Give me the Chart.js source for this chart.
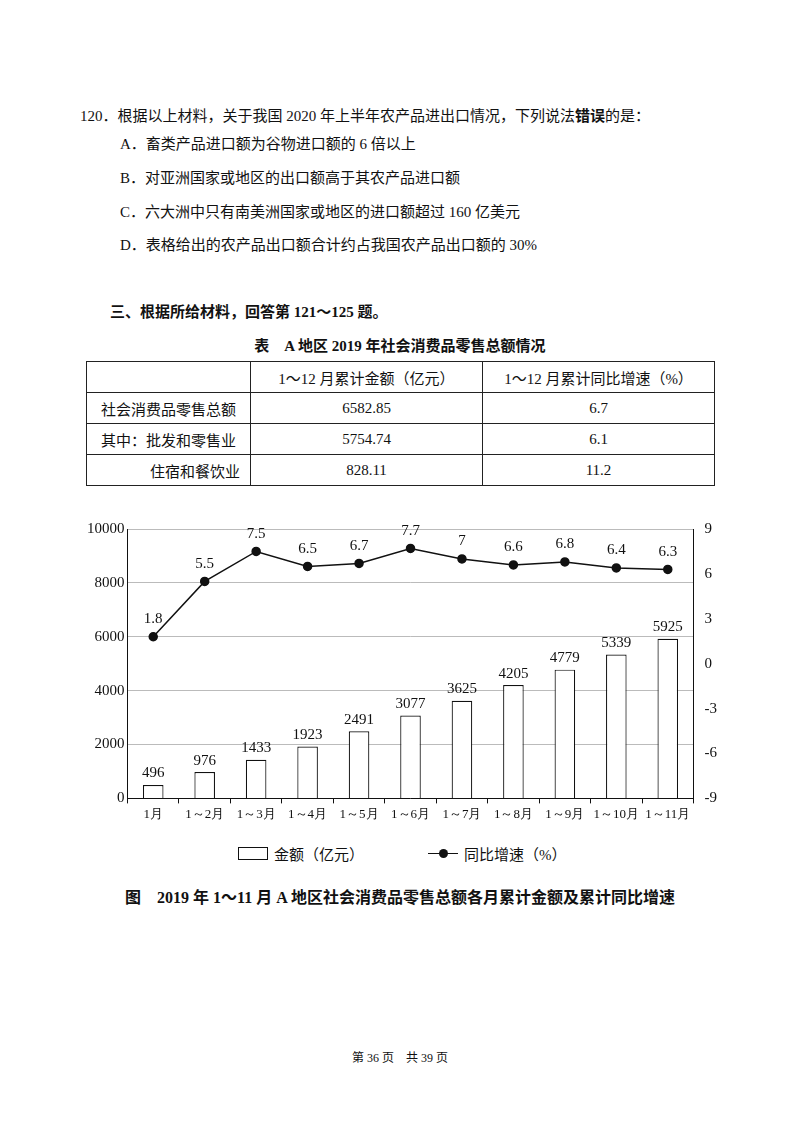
<!DOCTYPE html>
<html><head><meta charset="utf-8">
<script src="https://cdn.jsdelivr.net/npm/chart.js@4"></script>
<style>
body{margin:0;width:800px;height:1124px;background:#fff;font-family:"Liberation Serif","Noto Sans CJK SC",serif;color:#111;position:relative}
.t{position:absolute;font-size:15px;white-space:nowrap}
.b{font-weight:bold}
table{position:absolute;left:86px;top:361px;border-collapse:collapse;font-size:15px}
td{border:1px solid #222;height:30px;padding:0;text-align:center}
#wrap{position:absolute;left:84px;top:515px;width:636px;height:310px}
.lg{position:absolute;top:843px;font-size:15px;display:flex;align-items:center}
</style></head><body>
<div class="t" style="left:80px;top:104px">120．根据以上材料，关于我国 2020 年上半年农产品进出口情况，下列说法<b>错误</b>的是：</div>
<div class="t" style="left:120px;top:132px">A．畜类产品进口额为谷物进口额的 6 倍以上</div>
<div class="t" style="left:120px;top:166px">B．对亚洲国家或地区的出口额高于其农产品进口额</div>
<div class="t" style="left:120px;top:200px">C．六大洲中只有南美洲国家或地区的进口额超过 160 亿美元</div>
<div class="t" style="left:120px;top:233px">D．表格给出的农产品出口额合计约占我国农产品出口额的 30%</div>
<div class="t b" style="left:110px;top:300px">三、根据所给材料，回答第 121～125 题。</div>
<div class="t b" style="left:0;width:800px;text-align:center;top:334px">表　A 地区 2019 年社会消费品零售总额情况</div>
<table>
<tr><td style="width:163px"></td><td style="width:231px">1～12 月累计金额（亿元）</td><td style="width:231px">1～12 月累计同比增速（%）</td></tr>
<tr><td>社会消费品零售总额</td><td>6582.85</td><td>6.7</td></tr>
<tr><td>其中：批发和零售业</td><td>5754.74</td><td>6.1</td></tr>
<tr><td style="text-align:right;padding-right:10px">住宿和餐饮业</td><td>828.11</td><td>11.2</td></tr>
</table>
<div id="wrap"><canvas id="c"></canvas></div>
<div class="lg" style="left:238px"><span style="display:inline-block;width:28px;height:11px;border:1.5px solid #111;margin-right:6px"></span>金额（亿元）</div>
<div class="lg" style="left:428px"><span style="display:inline-block;width:30px;height:1.5px;background:#111;position:relative;margin-right:6px"><span style="position:absolute;left:11px;top:-4px;width:9px;height:9px;border-radius:50%;background:#111"></span></span>同比增速（%）</div>
<div class="t b" style="left:0;width:800px;text-align:center;top:884px;font-size:16px">图　2019 年 1～11 月 A 地区社会消费品零售总额各月累计金额及累计同比增速</div>
<div class="t" style="left:0;width:800px;text-align:center;top:1048px;font-size:12px">第 36 页　共 39 页</div>
<script>
const months = ["1月","1～2月","1～3月","1～4月","1～5月","1～6月","1～7月","1～8月","1～9月","1～10月","1～11月"];
const amounts = [496,976,1433,1923,2491,3077,3625,4205,4779,5339,5925];
const growth = [1.8,5.5,7.5,6.5,6.7,7.7,7,6.6,6.8,6.4,6.3];
const growthLabels = ["1.8","5.5","7.5","6.5","6.7","7.7","7","6.6","6.8","6.4","6.3"];

// value labels above bars and points
const valueLabels = {
  id: "valueLabels",
  afterDatasetsDraw(chart) {
    const ctx = chart.ctx;
    ctx.save();
    ctx.fillStyle = "#111";
    ctx.textAlign = "center";
    ctx.textBaseline = "bottom";
    ctx.font = "15px 'Liberation Serif'";
    chart.getDatasetMeta(0).data.forEach((b, i) => ctx.fillText(amounts[i], b.x, b.y - 4));
    chart.getDatasetMeta(1).data.forEach((p, i) => ctx.fillText(growthLabels[i], p.x, p.y - 10));
    ctx.restore();
  }
};

new Chart(document.getElementById("c"), {
  data: {
    labels: months,
    datasets: [
      { type: "bar", data: amounts, yAxisID: "y", backgroundColor: "#fff", borderColor: "#111", borderWidth: 1.2, barPercentage: 0.4, categoryPercentage: 1, order: 2 },
      { type: "line", data: growth, yAxisID: "y1", borderColor: "#111", borderWidth: 1.5, pointRadius: 4, pointBackgroundColor: "#111", pointBorderColor: "#111", order: 1 }
    ]
  },
  options: {
    responsive: true, maintainAspectRatio: false, animation: false,
    layout: { padding: { top: 14 } },
    plugins: { legend: { display: false }, tooltip: { enabled: false } },
    scales: {
      x: { grid: { display: true, drawOnChartArea: false, color: "#111", tickLength: 5, offset: true }, border: { color: "#111" },
           ticks: { color: "#111", font: { size: 13, family: "Liberation Serif" }, maxRotation: 0, autoSkip: false } },
      y: { min: 0, max: 10000, ticks: { stepSize: 2000, color: "#111", font: { size: 15, family: "Liberation Serif" }, callback: v => String(v) },
           grid: { color: "#bbb", drawTicks: false }, border: { color: "#111" } },
      y1: { position: "right", min: -9, max: 9, ticks: { stepSize: 3, color: "#111", font: { size: 15, family: "Liberation Serif" } },
            grid: { display: false }, border: { color: "#111" } }
    }
  },
  plugins: [valueLabels]
});
</script>
</body></html>
